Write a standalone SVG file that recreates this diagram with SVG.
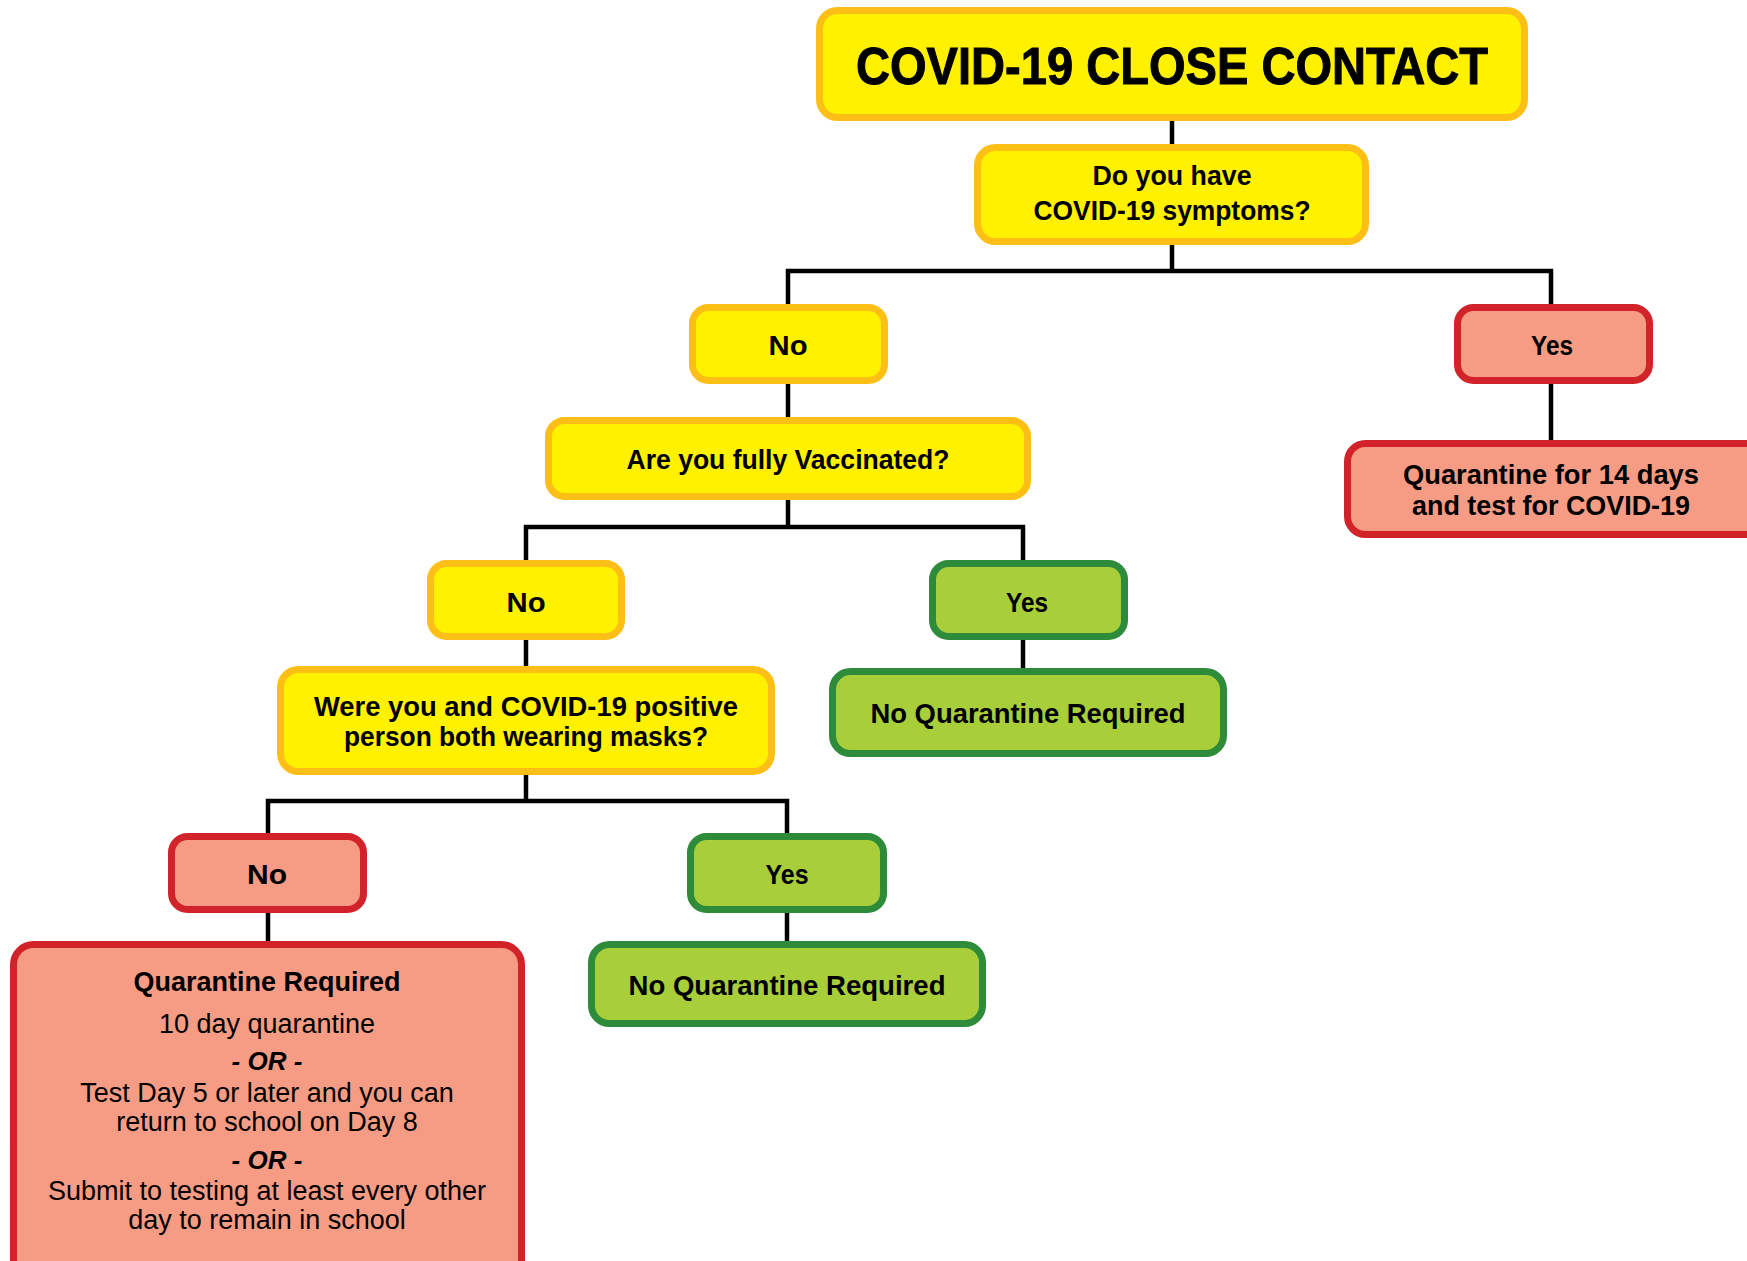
<svg xmlns="http://www.w3.org/2000/svg" width="1747" height="1261" viewBox="0 0 1747 1261">
<style>
.y{fill:#FFF100;stroke:#FDBE16;stroke-width:7}
.r{fill:#F69C84;stroke:#D2232A;stroke-width:7}
.g{fill:#A8CE3A;stroke:#2E8B3A;stroke-width:7}
.t{font-family:"Liberation Sans",Arial,sans-serif;font-weight:bold;font-size:28px;fill:#000;text-anchor:middle}
.b{font-family:"Liberation Sans",Arial,sans-serif;font-size:27px;fill:#000;text-anchor:middle}
.o{font-family:"Liberation Sans",Arial,sans-serif;font-size:26px;font-weight:bold;font-style:italic;fill:#000;text-anchor:middle}
.c{fill:none;stroke:#000;stroke-width:4.5}
</style>
<rect width="1747" height="1261" fill="#fff"/>
<g id="connectors">
<path class="c" d="M1172 119V145"/>
<path class="c" d="M1172 244V271"/>
<path class="c" d="M788 304V271H1551V304"/>
<path class="c" d="M1551 384V440"/>
<path class="c" d="M788 384V417"/>
<path class="c" d="M788 500V527"/>
<path class="c" d="M526 560V527H1023V560"/>
<path class="c" d="M526 640V668"/>
<path class="c" d="M1023 640V668"/>
<path class="c" d="M526 774V801"/>
<path class="c" d="M268 833V801H787V833"/>
<path class="c" d="M268 913V941"/>
<path class="c" d="M787 913V941"/>
</g>
<g id="title">
<rect class="y" x="819.5" y="10.5" width="705" height="107" rx="18"/>
<text class="t" x="1172" y="84" textLength="632" lengthAdjust="spacingAndGlyphs" style="font-size:52px;font-weight:900;stroke:#000;stroke-width:1">COVID-19 CLOSE CONTACT</text>
</g>
<g id="q-symptoms">
<rect class="y" x="977.5" y="147.5" width="388" height="94" rx="18"/>
<text class="t" x="1172" y="185" textLength="159" lengthAdjust="spacingAndGlyphs">Do you have</text>
<text class="t" x="1172" y="220" textLength="277" lengthAdjust="spacingAndGlyphs">COVID-19 symptoms?</text>
</g>
<g id="no-symptoms">
<rect class="y" x="692.5" y="307.5" width="192" height="73" rx="16"/>
<text class="t" x="788" y="355" textLength="39" lengthAdjust="spacingAndGlyphs">No</text>
</g>
<g id="yes-symptoms">
<rect class="r" x="1457.5" y="307.5" width="192" height="73" rx="16"/>
<text class="t" x="1552" y="355" textLength="42" lengthAdjust="spacingAndGlyphs">Yes</text>
</g>
<g id="quarantine-14">
<rect class="r" x="1347.5" y="443.5" width="420" height="91" rx="18"/>
<text class="t" x="1551" y="484" textLength="296" lengthAdjust="spacingAndGlyphs">Quarantine for 14 days</text>
<text class="t" x="1551" y="515" textLength="278" lengthAdjust="spacingAndGlyphs">and test for COVID-19</text>
</g>
<g id="q-vaccinated">
<rect class="y" x="548.5" y="420.5" width="479" height="76" rx="16"/>
<text class="t" x="788" y="469" textLength="323" lengthAdjust="spacingAndGlyphs">Are you fully Vaccinated?</text>
</g>
<g id="no-vaccinated">
<rect class="y" x="430.5" y="563.5" width="191" height="73" rx="16"/>
<text class="t" x="526" y="612" textLength="39" lengthAdjust="spacingAndGlyphs">No</text>
</g>
<g id="yes-vaccinated">
<rect class="g" x="932.5" y="563.5" width="192" height="73" rx="16"/>
<text class="t" x="1027" y="612" textLength="42" lengthAdjust="spacingAndGlyphs">Yes</text>
</g>
<g id="no-quarantine-1">
<rect class="g" x="832.5" y="671.5" width="391" height="82" rx="18"/>
<text class="t" x="1028" y="723" textLength="315" lengthAdjust="spacingAndGlyphs">No Quarantine Required</text>
</g>
<g id="q-masks">
<rect class="y" x="280.5" y="669.5" width="491" height="102" rx="18"/>
<text class="t" x="526" y="716" textLength="424" lengthAdjust="spacingAndGlyphs">Were you and COVID-19 positive</text>
<text class="t" x="526" y="746" textLength="364" lengthAdjust="spacingAndGlyphs">person both wearing masks?</text>
</g>
<g id="no-masks">
<rect class="r" x="171.5" y="836.5" width="192" height="73" rx="16"/>
<text class="t" x="267" y="884" textLength="40" lengthAdjust="spacingAndGlyphs">No</text>
</g>
<g id="yes-masks">
<rect class="g" x="690.5" y="836.5" width="193" height="73" rx="16"/>
<text class="t" x="787" y="884" textLength="43" lengthAdjust="spacingAndGlyphs">Yes</text>
</g>
<g id="no-quarantine-2">
<rect class="g" x="591.5" y="944.5" width="391" height="79" rx="18"/>
<text class="t" x="787" y="995" textLength="317" lengthAdjust="spacingAndGlyphs">No Quarantine Required</text>
</g>
<g id="quarantine-required">
<rect class="r" x="13.5" y="944.5" width="508" height="340" rx="20"/>
<text class="t" x="267" y="991" textLength="267" lengthAdjust="spacingAndGlyphs">Quarantine Required</text>
<text class="b" x="267" y="1033">10 day quarantine</text>
<text class="o" x="267" y="1070">- OR -</text>
<text class="b" x="267" y="1102">Test Day 5 or later and you can</text>
<text class="b" x="267" y="1131">return to school on Day 8</text>
<text class="o" x="267" y="1169">- OR -</text>
<text class="b" x="267" y="1200">Submit to testing at least every other</text>
<text class="b" x="267" y="1229">day to remain in school</text>
</g>
</svg>
